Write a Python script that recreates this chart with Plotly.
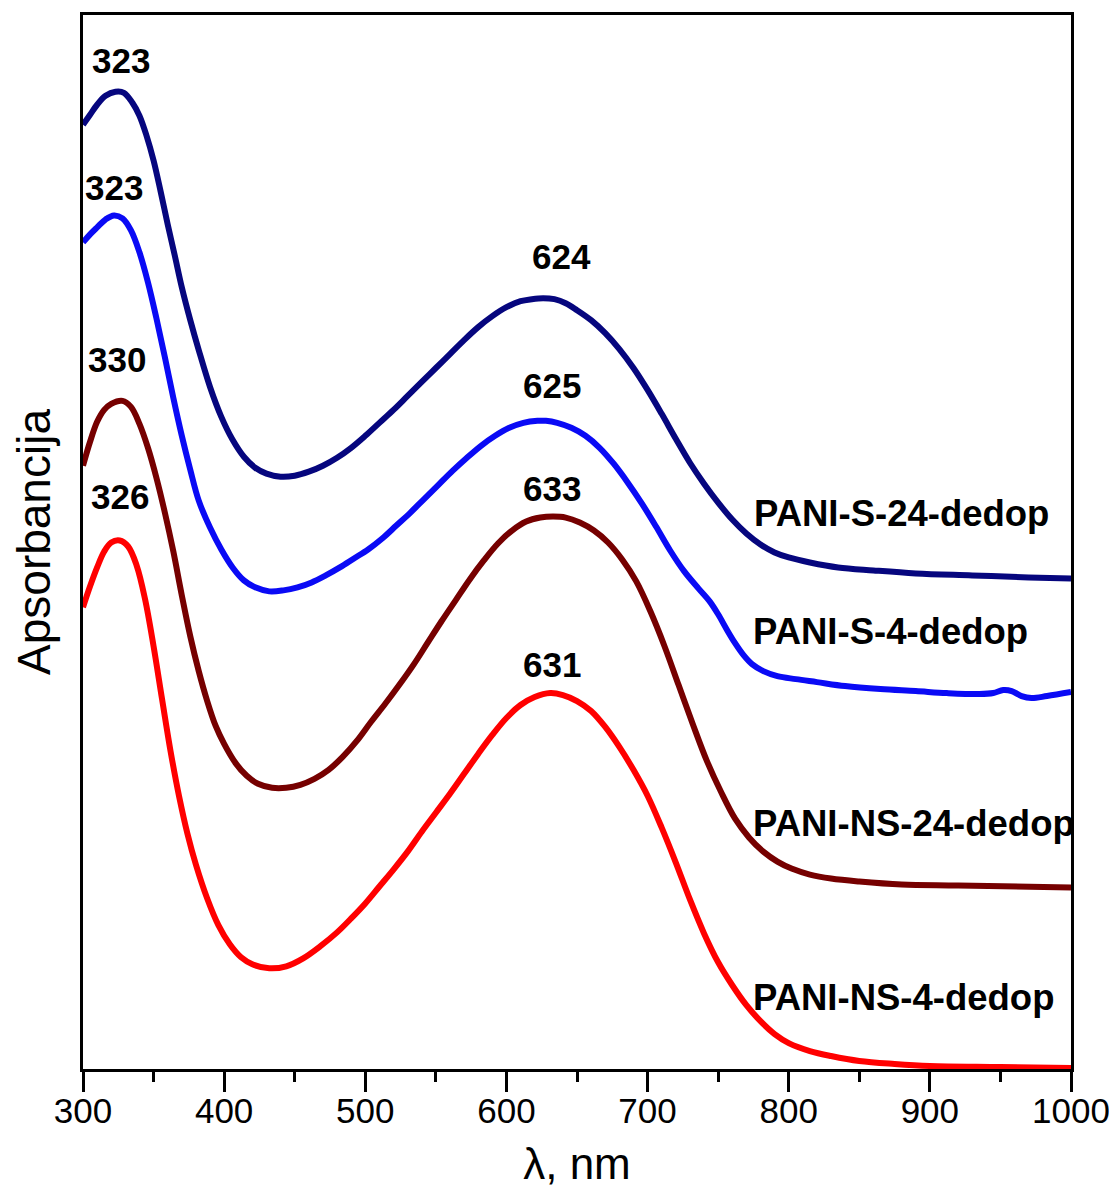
import plotly.graph_objects as go

# ---- data: wavelength (nm) and absorbance (arbitrary units) ----
wl_s24 = [300, 305, 310, 316, 323, 329, 335, 340, 345, 350, 355, 360, 365, 370, 376, 382, 390, 398, 406, 414,
          422, 430, 440, 450, 460, 470, 480, 490, 500, 510, 520, 530, 540, 550, 560, 570, 580, 590, 600, 610,
          618, 626, 634, 642, 650, 660, 670, 680, 690, 700, 710, 720, 730, 740, 750, 760, 770, 780, 790, 800,
          815, 835, 860, 890, 930, 970, 1000]
abs_s24 = [947, 957, 967, 976, 980, 979, 969, 956, 936, 911, 880, 847, 816, 784, 751, 721, 684, 654, 631, 614,
           603, 597, 594, 595, 599, 605, 613, 623, 635, 648, 661, 675, 689, 703, 717, 731, 744, 755, 764, 770,
           772, 773, 772, 768, 761, 751, 738, 722, 703, 681, 657, 632, 608, 587, 568, 551, 537, 526, 518, 513,
           508, 503, 500, 497, 495, 493, 492]

wl_s4 = [300, 305, 310, 316, 322, 328, 334, 340, 346, 352, 358, 364, 370, 376, 382, 390, 398, 406, 414, 422,
         432, 442, 452, 462, 472, 482, 492, 502, 512, 522, 532, 542, 552, 562, 572, 582, 592, 602, 612, 622,
         628, 636, 646, 656, 666, 676, 686, 696, 706, 716, 726, 736, 744, 750, 756, 762, 768, 774, 782, 792,
         805, 820, 840, 865, 890, 912, 935, 945, 952, 958, 965, 972, 983, 1000]
abs_s4 = [829, 837, 844, 852, 856, 853, 841, 819, 789, 753, 714, 673, 635, 601, 570, 543, 521, 503, 490, 483,
          479, 480, 483, 488, 495, 503, 512, 521, 532, 545, 558, 572, 586, 600, 613, 625, 635, 643, 648, 650,
          650, 648, 643, 635, 623, 607, 588, 567, 544, 520, 499, 482, 469, 456, 441, 427, 415, 406, 399, 394,
          391, 388, 384, 381, 379, 377, 376, 377, 380, 379, 374, 372, 374, 378]

wl_ns24 = [300, 305, 310, 315, 320, 328, 334, 340, 346, 352, 358, 364, 370, 376, 382, 388, 394, 400, 408, 416,
           424, 434, 444, 454, 464, 474, 484, 494, 504, 514, 524, 534, 544, 554, 564, 574, 584, 594, 604, 614,
           624, 633, 642, 652, 662, 672, 682, 692, 702, 712, 722, 732, 742, 752, 762, 772, 782, 792, 802, 815,
           830, 850, 880, 920, 1000]
abs_ns24 = [605, 629, 649, 661, 667, 670, 664, 647, 623, 593, 558, 519, 475, 434, 399, 369, 344, 326, 307, 294,
            286, 282, 282, 285, 291, 300, 313, 329, 348, 366, 385, 405, 427, 449, 470, 491, 510, 527, 540, 549,
            553, 554, 553, 548, 540, 528, 511, 489, 459, 424, 385, 346, 309, 278, 251, 232, 218, 208, 201, 195,
            191, 188, 185, 184, 182]

wl_ns4 = [300, 305, 310, 315, 320, 326, 332, 338, 344, 350, 356, 362, 368, 374, 380, 388, 396, 404, 412, 420,
          432, 444, 456, 468, 480, 490, 500, 510, 520, 530, 540, 550, 560, 570, 580, 590, 600, 610, 620, 631,
          640, 650, 660, 670, 680, 690, 700, 710, 720, 730, 740, 750, 760, 770, 780, 790, 800, 815, 830, 850,
          875, 900, 950, 1000]
abs_ns4 = [463, 484, 503, 519, 528, 530, 524, 505, 471, 424, 371, 319, 274, 236, 205, 171, 144, 125, 112, 105,
           101, 103, 111, 123, 137, 151, 166, 183, 200, 218, 238, 257, 276, 296, 316, 335, 352, 365, 373, 377,
           375, 369, 359, 343, 323, 300, 274, 242, 207, 170, 136, 107, 84, 64, 48, 35, 26, 18, 13, 8,
           5, 3, 2, 1]

series_names = ["PANI-S-24-dedop", "PANI-S-4-dedop", "PANI-NS-24-dedop", "PANI-NS-4-dedop"]
series_colors = ["#06067e", "#0a0af5", "#760000", "#ff0000"]

# peak labels
peak_texts = ["323", "323", "330", "326", "624", "625", "633", "631"]
peak_x = [327, 322, 324, 326, 639, 632, 632, 632]
peak_y = [1011, 884, 712, 574, 815, 685, 582, 406]

# curve name labels
name_x = [774, 773, 773, 773]
name_y = [557, 439, 246, 72]

x_ticks = [300, 400, 500, 600, 700, 800, 900, 1000]

fig = go.Figure()
for wl, ab, nm, col in zip([wl_s24, wl_s4, wl_ns24, wl_ns4],
                           [abs_s24, abs_s4, abs_ns24, abs_ns4],
                           series_names, series_colors):
    fig.add_trace(go.Scatter(x=wl, y=ab, mode="lines", name=nm,
                             line=dict(color=col, width=6, shape="spline", smoothing=1.0)))

num_font = dict(family="Arial, Liberation Sans, sans-serif", size=35, color="black")
name_font = dict(family="Arial, Liberation Sans, sans-serif", size=36.5, color="black")
for t, x, y in zip(peak_texts, peak_x, peak_y):
    fig.add_annotation(x=x, y=y, text="<b>%s</b>" % t, showarrow=False, font=num_font,
                       xanchor="center", yanchor="middle")
for t, x, y in zip(series_names, name_x, name_y):
    fig.add_annotation(x=x, y=y, text="<b>%s</b>" % t, showarrow=False, font=name_font,
                       xanchor="left", yanchor="middle")

fig.update_layout(
    width=1117, height=1200,
    margin=dict(l=75, r=54, t=4, b=139),
    paper_bgcolor="white", plot_bgcolor="white",
    showlegend=False,
    font=dict(family="Arial, Liberation Sans, sans-serif", color="black"),
    xaxis=dict(range=[300, 1000], tickmode="array", tickvals=x_ticks,
               ticks="outside", ticklen=20, tickwidth=3, tickcolor="black",
               minor=dict(dtick=50, ticks="outside", ticklen=10, tickwidth=3, tickcolor="black"),
               showline=True, linewidth=3, linecolor="black", mirror=True,
               showgrid=False, zeroline=False,
               ticklabelstandoff=-11,
               tickfont=dict(size=35, color="black"),
               title=dict(text="λ, nm", font=dict(size=44, color="black"), standoff=20)),
    yaxis=dict(range=[0, 1057], showticklabels=False, ticks="",
               showline=True, linewidth=3, linecolor="black", mirror=True,
               showgrid=False, zeroline=False,
               title=dict(text="Apsorbancija", font=dict(size=46, color="black"), standoff=24)),
)

fig.write_html("out.html")
